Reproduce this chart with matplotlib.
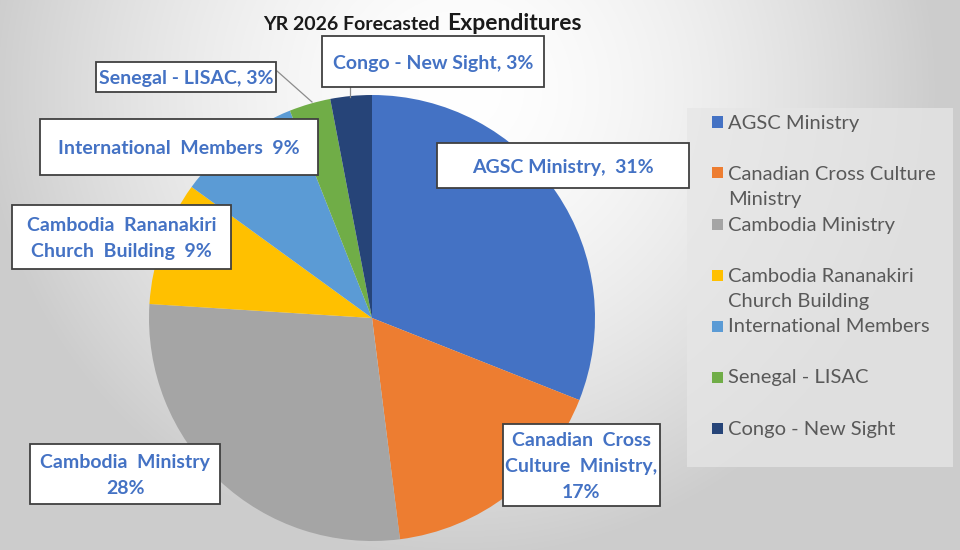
import numpy as np
import matplotlib
matplotlib.use("Agg")
import matplotlib.pyplot as plt
from matplotlib.patches import Rectangle
from matplotlib.lines import Line2D

# ---- data ----
categories = ["AGSC Ministry", "Canadian Cross Culture Ministry", "Cambodia Ministry",
              "Cambodia Rananakiri Church Building", "International Members",
              "Senegal - LISAC", "Congo - New Sight"]
values = [31, 17, 28, 9, 9, 3, 3]
legend_labels = ["AGSC Ministry", "Canadian Cross Culture\nMinistry", "Cambodia Ministry",
                 "Cambodia Rananakiri\nChurch Building", "International Members",
                 "Senegal - LISAC", "Congo - New Sight"]
data_labels = ["AGSC Ministry,  31%", "Canadian  Cross\nCulture  Ministry,\n17%",
               "Cambodia  Ministry\n28%", "Cambodia  Rananakiri\nChurch  Building  9%",
               "International  Members  9%", "Senegal - LISAC, 3%", "Congo - New Sight, 3%"]
colors = ["#4472C4", "#ED7D31", "#A5A5A5", "#FFC000", "#5B9BD5", "#70AD47", "#264478"]

W, H = 960, 550
fig = plt.figure(figsize=(W / 100, H / 100), dpi=100)

def fx(x):
    return x / W

def fy(y):
    return 1 - y / H

# background gradient
bg = fig.add_axes([0, 0, 1, 1], zorder=-10)
yy, xx = np.mgrid[0:H, 0:W]
d = np.sqrt(((xx - 460) / 480.0) ** 2 + ((yy - 90) / 470.0) ** 2)
t = np.clip(d, 0, 1) ** 1.6
c0 = np.array([1.0, 1.0, 1.0])
c1 = np.array([0.80, 0.80, 0.80])
img = c0[None, None, :] * (1 - t[..., None]) + c1[None, None, :] * t[..., None]
bg.imshow(img, extent=[0, 1, 0, 1], aspect="auto", interpolation="bilinear")
bg.set_axis_off()

# pie
cx, cy, r = 372, 318, 223
ax = fig.add_axes([fx(cx - r), fy(cy + r), 2 * r / W, 2 * r / H])
ax.pie(values, colors=colors, startangle=90, counterclock=False,
       wedgeprops=dict(linewidth=0))
ax.set_xlim(-1, 1)
ax.set_ylim(-1, 1)
ax.set_axis_off()

# title
fig.text(fx(440), fy(30), "YR 2026 Forecasted", ha="right", va="baseline",
         fontsize=14, fontweight="bold", family="Lato", color="#1a1a1a")
fig.text(fx(447), fy(30), "Expenditures", ha="left", va="baseline",
         fontsize=16.5, fontweight="bold", family="Lato", color="#1a1a1a")

# data label boxes (x0, x1, y0, y1) in pixels
boxes = [(437, 689, 143, 188), (503, 660, 424, 506), (30, 220, 444, 504),
         (12, 231, 205, 269), (40, 318, 119, 175), (96, 276, 62, 92), (322, 544, 36, 87)]
LS = 26
for (x0, x1, y0, y1), lab in zip(boxes, data_labels):
    fig.add_artist(Rectangle((fx(x0), fy(y1)), (x1 - x0) / W, (y1 - y0) / H,
                             transform=fig.transFigure, facecolor="white",
                             edgecolor="#404040", linewidth=1.3, zorder=5))
    lines = lab.split("\n")
    n = len(lines)
    ymid = (y0 + y1) / 2
    for k, ln in enumerate(lines):
        yc = ymid + (k - (n - 1) / 2) * LS
        fig.text(fx((x0 + x1) / 2), fy(yc + 7), ln, ha="center", va="baseline",
                 fontsize=14, fontweight="bold", family="Lato", color="#4472C4",
                 zorder=6)

# leader lines
fig.add_artist(Line2D([fx(277), fx(312)], [fy(71), fy(102)], transform=fig.transFigure,
                      color="#8c8c8c", linewidth=0.9, zorder=4))
fig.add_artist(Line2D([fx(350), fx(350)], [fy(87), fy(97)], transform=fig.transFigure,
                      color="#8c8c8c", linewidth=0.9, zorder=4))

# legend
fig.add_artist(Rectangle((fx(687), fy(467)), (953 - 687) / W, (467 - 108) / H,
                         transform=fig.transFigure, facecolor="#E6E6E6",
                         edgecolor="none", alpha=0.75, zorder=3))
ly0, lstep = 122, 51
for i, (lab, col) in enumerate(zip(legend_labels, colors)):
    yc = ly0 + i * lstep
    fig.add_artist(Rectangle((fx(711.5), fy(yc + 5.5)), 11 / W, 11 / H,
                             transform=fig.transFigure, facecolor=col,
                             edgecolor="none", zorder=6))
    for k, ln in enumerate(lab.split("\n")):
        fig.text(fx(728), fy(yc + 6.5 + k * LS), ln, ha="left", va="baseline",
                 fontsize=14.5, family="Lato", color="#595959", zorder=6)

fig.savefig("out.png", dpi=100)
